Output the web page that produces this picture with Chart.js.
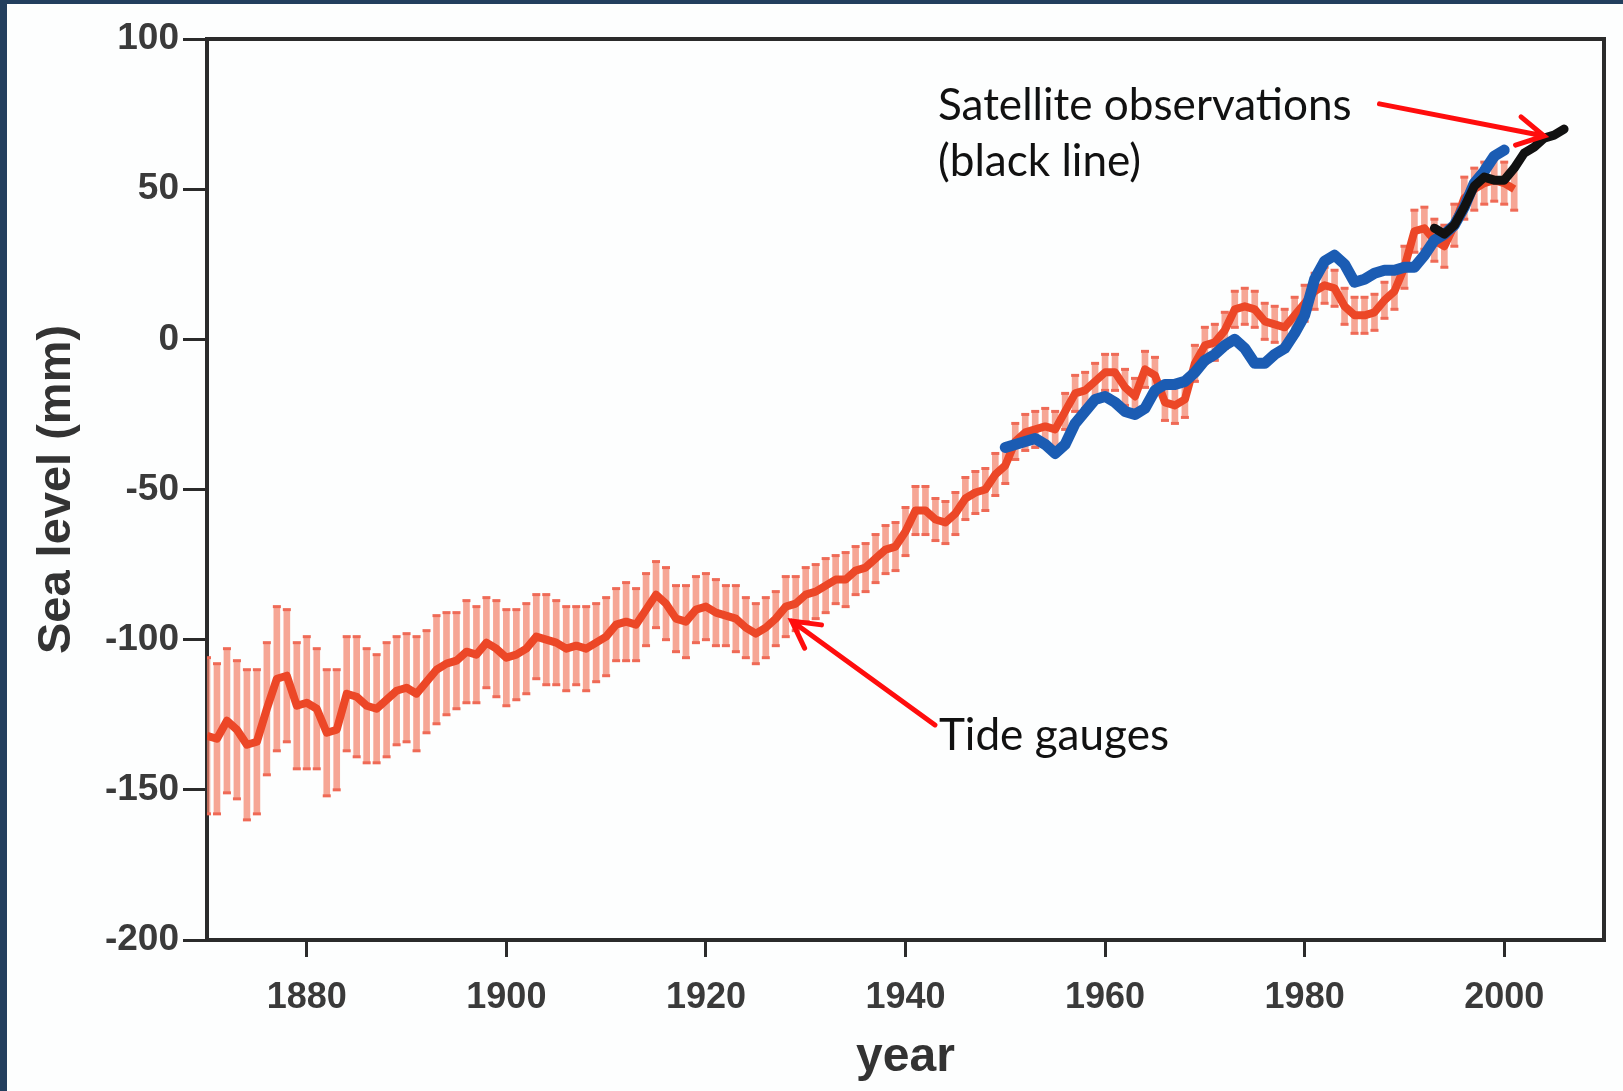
<!DOCTYPE html>
<html>
<head>
<meta charset="utf-8">
<title>Sea level</title>
<script src="https://cdn.jsdelivr.net/npm/chart.js@4.4.0/dist/chart.umd.min.js"></script>
<style>
  html, body { margin: 0; padding: 0; background: #233f5e; overflow: hidden; }
  #wrap { position: absolute; left: 7px; top: 4px; width: 1616px; height: 1087px; background: #fdfefe; }
</style>
</head>
<body>
<div id="wrap"><canvas id="sea" width="1616" height="1087"></canvas></div>
<script>
// tide gauge reconstruction, one value per year from 1870
const tideStart = 1870;
const tideLevel = [
  -132, -133, -127, -130, -135, -134, -123, -113, -112, -122,
  -121, -123, -131, -130, -118, -119, -122, -123, -120, -117,
  -116, -118, -114, -110, -108, -107, -104, -105, -101, -103,
  -106, -105, -103, -99, -100, -101, -103, -102, -103, -101,
  -99, -95, -94, -95, -90, -85, -88, -93, -94, -90,
  -89, -91, -92, -93, -96, -98, -96, -93, -89, -88,
  -85, -84, -82, -80, -80, -77, -76, -73, -70, -69,
  -64, -57, -57, -60, -61, -58, -53, -51, -50, -45,
  -42, -34, -31, -30, -29, -30, -24, -18, -17, -14,
  -11, -11, -16, -19, -10, -12, -21, -22, -20, -8,
  -2, -1, 3, 10, 11, 10, 6, 5, 4, 8,
  12, 16, 18, 17, 11, 8, 8, 9, 13, 16,
  24, 36, 37, 33, 31, 38, 47, 50, 52, 53,
  52, 50
];
// half height of the error bars (mm)
const tideError = [
  26, 25, 24, 23, 25, 24, 22, 24, 22, 21,
  22, 20, 21, 20, 19, 20, 19, 18, 19, 18,
  18, 19, 17, 18, 17, 16, 17, 16, 15, 16,
  16, 15, 15, 14, 15, 14, 14, 13, 14, 13,
  13, 12, 13, 12, 12, 11, 12, 11, 12, 11,
  11, 11, 10, 11, 10, 10, 10, 9, 10, 9,
  9, 9, 9, 8, 9, 8, 8, 8, 8, 8,
  8, 8, 8, 7, 7, 7, 7, 7, 7, 7,
  6, 6, 6, 6, 6, 6, 6, 6, 6, 6,
  6, 6, 6, 6, 6, 6, 6, 6, 6, 6,
  6, 6, 6, 6, 6, 6, 6, 6, 6, 6,
  6, 6, 6, 6, 6, 6, 6, 6, 6, 6,
  7, 7, 7, 7, 7, 7, 7, 7, 7, 7,
  7, 7
];
// blue reconstruction from 1950
const reconStart = 1950;
const reconLevel = [
  -36, -35, -34, -33, -35, -38, -35, -28, -24, -20,
  -19, -21, -24, -25, -23, -17, -15, -15, -14, -11,
  -7, -5, -2, 0, -3, -8, -8, -5, -3, 2,
  8, 20, 26, 28, 25, 19, 20, 22, 23, 23,
  24, 24, 28, 33, 35, 38, 44, 52, 56, 61,
  63
];
// satellite altimetry from 1993
const satStart = 1993;
const satLevel = [37, 35, 38, 44, 51, 54, 53, 53, 57, 62, 64, 67, 68, 70];

const xTicks = [1880, 1900, 1920, 1940, 1960, 1980, 2000];
const yTicks = [-200, -150, -100, -50, 0, 50, 100];

const axisColor = '#2b2b2b';

function series(start, values) {
    return values.map((v, i) => ({ x: start + i, y: v }));
}

// labels and red arrows, placed in data units
const notes = {
    satLines: ['Satellite observations', '(black line)'],
    satAt: [1943.25, 73.0],
    satStep: 56,
    satArrow: [[1987.5, 78.4], [2004.0, 67.7]],
    tide: 'Tide gauges',
    tideAt: [1943.35, -136.8],
    tideArrow: [[1942.95, -128.4], [1928.6, -93.8]]
};

function arrow(ctx, x0, y0, x1, y1) {
    const ang = Math.atan2(y1 - y0, x1 - x0);
    const head = 30, spread = 0.5;
    ctx.beginPath();
    ctx.moveTo(x0, y0);
    ctx.lineTo(x1, y1);
    ctx.moveTo(x1 - head * Math.cos(ang - spread), y1 - head * Math.sin(ang - spread));
    ctx.lineTo(x1, y1);
    ctx.lineTo(x1 - head * Math.cos(ang + spread), y1 - head * Math.sin(ang + spread));
    ctx.stroke();
}

const overlay = {
    id: 'overlay',
    afterDraw(chart) {
        const { ctx, chartArea: a, scales: { x, y } } = chart;
        ctx.save();
        // top and right edges of the frame
        ctx.strokeStyle = axisColor;
        ctx.lineWidth = 4;
        ctx.beginPath();
        ctx.moveTo(a.left - 2, a.top);
        ctx.lineTo(a.right, a.top);
        ctx.lineTo(a.right, a.bottom + 2);
        ctx.stroke();

        // annotation text, sized like the Calibri original
        ctx.fillStyle = '#111';
        ctx.textBaseline = 'alphabetic';
        ctx.textAlign = 'left';
        ctx.font = '48px Lato';
        const size = 48 * 414 / ctx.measureText(notes.satLines[0]).width;
        ctx.font = size.toFixed(1) + 'px Lato';
        notes.satLines.forEach((t, i) => {
            ctx.fillText(t, x.getPixelForValue(notes.satAt[0]), y.getPixelForValue(notes.satAt[1]) + i * notes.satStep);
        });
        ctx.fillText(notes.tide, x.getPixelForValue(notes.tideAt[0]), y.getPixelForValue(notes.tideAt[1]));

        ctx.strokeStyle = '#ff0d0d';
        ctx.lineWidth = 5;
        ctx.lineCap = 'round';
        ctx.lineJoin = 'miter';
        [notes.satArrow, notes.tideArrow].forEach(([p, q]) => {
            arrow(ctx, x.getPixelForValue(p[0]), y.getPixelForValue(p[1]),
                       x.getPixelForValue(q[0]), y.getPixelForValue(q[1]));
        });
        ctx.restore();
    }
};

const ctx = document.getElementById('sea').getContext('2d');
const chart = new Chart(ctx, {
    type: 'line',
    data: {
        datasets: [
            {
                // satellite
                data: series(satStart, satLevel),
                borderColor: '#111111',
                borderWidth: 9,
                borderCapStyle: 'round',
                borderJoinStyle: 'round',
                pointRadius: 0,
                order: 0
            },
            {
                // blue reconstruction
                data: series(reconStart, reconLevel),
                borderColor: '#1b5cb3',
                borderWidth: 11,
                borderCapStyle: 'round',
                borderJoinStyle: 'round',
                pointRadius: 0,
                order: 1
            },
            {
                // tide gauges
                data: series(tideStart, tideLevel),
                borderColor: '#ec4727',
                borderWidth: 8,
                borderJoinStyle: 'round',
                pointRadius: 0,
                order: 2
            },
            {
                // error bar caps
                data: tideLevel.map((v, i) => ({ x: tideStart + i, y: v + tideError[i] }))
                    .concat(tideLevel.map((v, i) => ({ x: tideStart + i, y: v - tideError[i] }))),
                showLine: false,
                pointStyle: 'line',
                pointRadius: 4,
                pointBorderWidth: 3,
                pointBorderColor: '#ef6a56',
                order: 3
            },
            {
                // error bars
                type: 'bar',
                data: tideLevel.map((v, i) => ({ x: tideStart + i, y: [v - tideError[i], v + tideError[i]] })),
                backgroundColor: 'rgba(243, 132, 108, 0.72)',
                barThickness: 6,
                borderWidth: 0,
                order: 4
            }
        ]
    },
    options: {
        responsive: false,
        animation: false,
        events: [],
        layout: { padding: { top: 35, right: 19, left: 0, bottom: 0 } },
        plugins: {
            legend: { display: false },
            tooltip: { enabled: false }
        },
        scales: {
            x: {
                type: 'linear',
                min: 1870,
                max: 2010,
                offset: false,
                afterBuildTicks: s => { s.ticks = xTicks.map(v => ({ value: v })); },
                afterFit: s => { s.height = 151; },
                ticks: {
                    font: { family: 'Liberation Sans', weight: 'bold', size: 36 },
                    color: '#3a3a3a',
                    padding: 19,
                    maxRotation: 0,
                    autoSkip: false,
                    callback: v => String(v)
                },
                grid: { offset: false, drawOnChartArea: false, tickLength: 17, tickWidth: 3, tickColor: axisColor },
                border: { display: true, width: 4, color: axisColor },
                title: {
                    display: true,
                    text: 'year',
                    color: '#333',
                    font: { family: 'Liberation Sans', weight: 'bold', size: 48 },
                    padding: { top: 0, bottom: 4 }
                }
            },
            y: {
                min: -200,
                max: 100,
                afterBuildTicks: s => { s.ticks = yTicks.map(v => ({ value: v })); },
                afterFit: s => { s.width = 200; },
                ticks: {
                    font: { family: 'Liberation Sans', weight: 'bold', size: 37 },
                    color: '#3a3a3a',
                    padding: 4,
                    callback: v => String(v)
                },
                grid: { drawOnChartArea: false, tickLength: 24, tickWidth: 3, tickColor: axisColor },
                border: { display: true, width: 4, color: axisColor },
                title: {
                    display: true,
                    text: 'Sea level (mm)',
                    color: '#333',
                    font: { family: 'Liberation Sans', weight: 'bold', size: 47 },
                    padding: { top: 22, bottom: 0 }
                }
            }
        }
    },
    plugins: [overlay]
});
</script>
</body>
</html>
